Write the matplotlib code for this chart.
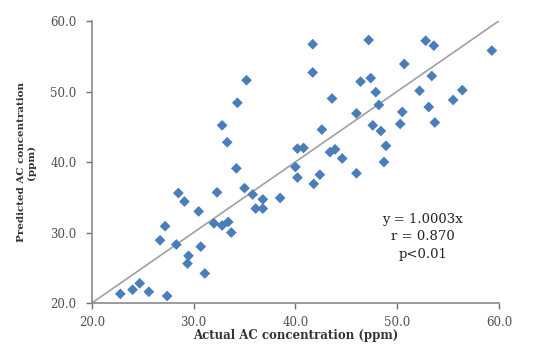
import numpy as np
import matplotlib
matplotlib.use('Agg')
import matplotlib.pyplot as plt

plt.rcParams['font.family'] = ['DejaVu Serif']

# actual vs predicted AC concentration (ppm)
actual = [41.7, 47.2, 52.8, 53.6, 59.3, 41.7, 50.7, 46.4, 47.4, 47.9,
          53.4, 43.6, 52.2, 56.4, 55.5, 48.2, 46.0, 50.5, 53.1, 53.7,
          50.3, 42.6, 47.6, 48.4, 48.9, 40.2, 40.8, 43.4, 43.9, 44.6,
          48.7, 40.0, 40.2, 42.4, 41.8, 46.0, 38.5, 35.2, 34.3, 32.8,
          33.3, 34.2, 28.5, 32.3, 35.0, 35.8, 36.8, 29.1, 36.1, 36.8,
          30.5, 27.2, 32.0, 32.8, 33.4, 26.7, 28.3, 33.7, 30.7, 29.5,
          29.4, 31.1, 22.8, 24.0, 24.7, 25.6, 27.4]
predicted = [56.7, 57.3, 57.2, 56.5, 55.8, 52.7, 53.9, 51.4, 51.9, 49.9,
             52.2, 49.0, 50.1, 50.2, 48.8, 48.1, 46.9, 47.1, 47.8, 45.6,
             45.4, 44.6, 45.2, 44.4, 42.3, 41.9, 42.0, 41.4, 41.8, 40.5,
             40.0, 39.3, 37.8, 38.2, 36.9, 38.4, 34.9, 51.6, 48.4, 45.2,
             42.8, 39.1, 35.6, 35.7, 36.3, 35.4, 34.7, 34.4, 33.4, 33.4,
             33.0, 30.9, 31.3, 31.0, 31.5, 28.9, 28.3, 30.0, 28.0, 26.7,
             25.6, 24.2, 21.3, 21.9, 22.8, 21.6, 21.0]
slope = 1.0003
ticks = [20.0, 30.0, 40.0, 50.0, 60.0]

fig = plt.figure(figsize=(5.6, 3.44), dpi=100)
ax = fig.add_axes([0.164, 0.119, 0.727, 0.820])

# fitted line through origin
xl = np.array([20.0, 60.0])
ax.plot(xl, slope * xl, color='#a0a0a0', lw=1.2, zorder=1)
ax.scatter(actual, predicted, marker='D', s=30, color='#4a7ebb', edgecolors='none', zorder=2)

ax.set_xlim(20, 60)
ax.set_ylim(20, 60)
ax.set_xticks(ticks)
ax.set_yticks(ticks)
ax.set_xticklabels([f'{t:.1f}' for t in ticks])
ax.set_yticklabels([f'{t:.1f}' for t in ticks])
ax.tick_params(labelsize=8.5, colors='#707070', length=4, width=1, labelcolor='#505050')
ax.tick_params(axis='x', pad=5)
ax.tick_params(axis='y', pad=7)
for s in ['top', 'right']:
    ax.spines[s].set_visible(False)
for s in ['left', 'bottom']:
    ax.spines[s].set_color('#8a8a8a')
    ax.spines[s].set_linewidth(1.2)

ax.set_xlabel('Actual AC concentration (ppm)', fontsize=8.5, fontweight='bold', color='#333333', labelpad=0)
ax.set_ylabel('Predicted AC concentration\n(ppm)', fontsize=7.5, fontweight='bold', color='#333333',
              labelpad=10, linespacing=1.2)

ax.text(52.5, 29.4, 'y = 1.0003x\nr = 0.870\np<0.01', ha='center', va='center',
        fontsize=9.5, color='#222222', linespacing=1.45)

fig.savefig('out.png', dpi=100)
